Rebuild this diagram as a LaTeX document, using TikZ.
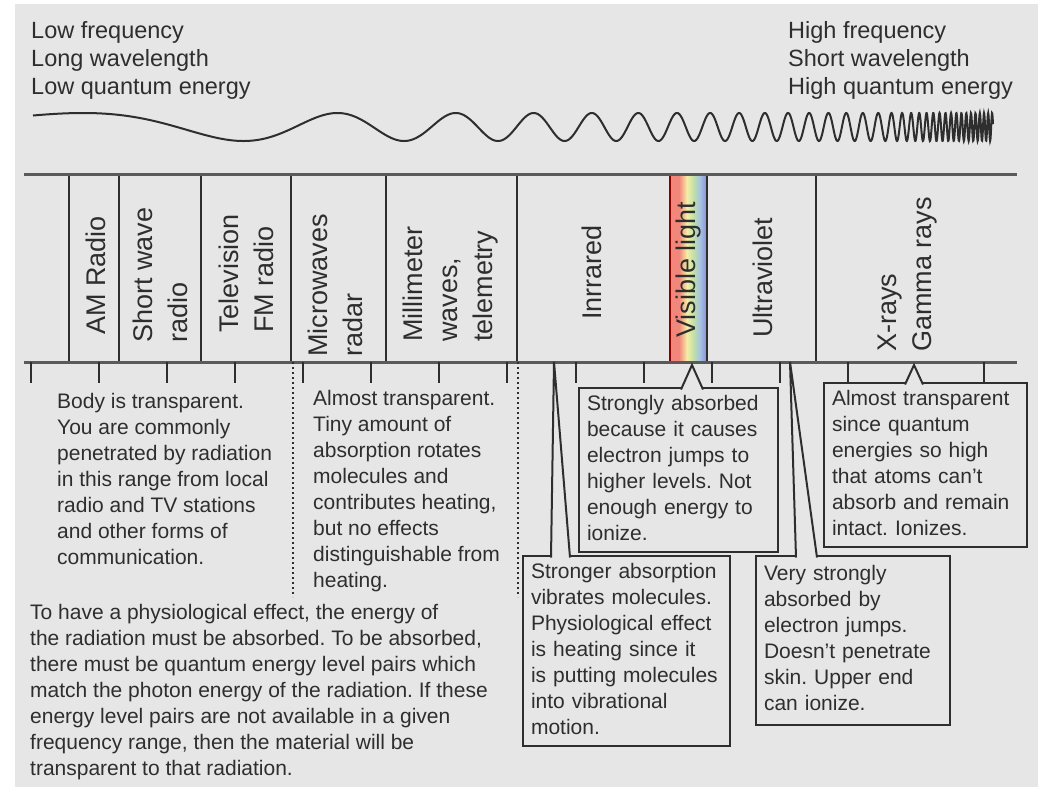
\documentclass[tikz,border=0pt]{standalone}
\usepackage{fontspec}
\setmainfont{Liberation Sans}
\usepackage{xcolor}
\usepackage{tikz}
\usetikzlibrary{calc}
\frenchspacing

\definecolor{bggray}{HTML}{E6E6E6}
\definecolor{ink}{HTML}{2E2E2E}
\definecolor{rulegray}{HTML}{5A5A5A}
\definecolor{specred}{HTML}{F2867A}
\definecolor{specorange}{HTML}{F6B88C}
\definecolor{specyellow}{HTML}{F4EEA6}
\definecolor{specgreen}{HTML}{C4E2A4}
\definecolor{speccyan}{HTML}{A6C2E4}
\definecolor{specblue}{HTML}{8C8CD6}

\begin{document}
\begin{tikzpicture}[x=1pt, y=-1pt]
\tikzstyle{heading} = [anchor=north west, inner sep=0pt, align=left, text=ink, font=\fontsize{23.5}{28}\selectfont, execute at begin node=\strut]
\tikzstyle{note} = [anchor=north west, inner sep=0pt, align=left, text=ink, font=\fontsize{21}{26}\selectfont, execute at begin node=\strut]
\tikzstyle{bandlabel} = [rotate=90, anchor=west, inner sep=0pt, align=left, text=ink, font=\fontsize{27}{35}\selectfont]
\tikzstyle{callout} = [rectangle, anchor=north west, draw=ink, fill=bggray, line width=2pt, inner xsep=8pt, inner ysep=4pt, outer sep=0pt, align=left, text=ink, font=\fontsize{21}{26}\selectfont, execute at begin node=\strut, execute at end node=\strut]
\tikzstyle{pointer} = [fill=bggray, draw=ink, line width=2pt]
\tikzstyle{divider} = [draw=ink, line width=2pt]
\tikzstyle{band} = [draw=rulegray, line width=3pt]
\tikzstyle{tick} = [draw=ink, line width=2pt]
\tikzstyle{rangesep} = [draw=ink, line width=2pt, dash pattern=on 2pt off 3pt]
\tikzstyle{wave} = [draw=ink, line width=2pt]

\useasboundingbox (0,0) rectangle (1038,787);
\fill[bggray] (15,4) rectangle (1038,787);

% headings and wave
\node (lowend) [heading] at (31,21.4) {Low frequency\\Long wavelength\\Low quantum energy};
\node (highend) [heading] at (788,21.4) {High frequency\\Short wavelength\\High quantum energy};
\draw [wave] plot[domain=33:993, samples=3000] (\x, {127-14*sin(90+180*(exp(0.00432*(\x-83))-1+0.0013*max(0,\x-880)^2))});

% spectrum bands
\foreach \xa/\xb/\ca/\cb in {670/679/specred/specred, 679/687/specred/specyellow, 687/693/specyellow/specgreen, 693/700/specgreen/speccyan, 700/707/speccyan/specblue}
  \shade[left color=\ca, right color=\cb] (\xa,174) rectangle (\xb,362);
\foreach \xd in {69,119,201,291,386,517,707,816}
  \draw [divider] (\xd,174) -- (\xd,362);
\draw [divider, draw=red!55!black] (670,174) -- (670,362);
\draw [band] (24,174) -- (1017,174);
\draw [band] (24,362) -- (1017,362);

\node (am) [bandlabel] at (96,335) {AM Radio};
\node (shortwave) [bandlabel] at (160,343) {Short wave\\radio};
\node (tv) [bandlabel] at (246,333) {Television\\FM radio};
\node (micro) [bandlabel] at (335,357) {Microwaves\\radar};
\node (milli) [bandlabel] at (451,342) {Millimeter\\waves,\\telemetry};
\node (infrared) [bandlabel] at (592,320) {Inrrared};
\node (visible) [bandlabel] at (689,338) {Visible light};
\node (uv) [bandlabel] at (763,338) {Ultraviolet};
\node (xray) [bandlabel] at (908,352) {X-rays\\Gamma rays};

% scale ticks and range separators
\foreach \k in {0,...,12,14}
  \draw [tick] (31+68.07*\k,362) -- (31+68.07*\k,383);
\draw [rangesep] (293,362) -- (293,597);
\draw [rangesep] (518,362) -- (518,597);

% notes
\node (radionote) [note] at (57,392.8) {Body is transparent.\\You are commonly\\penetrated by radiation\\in this range from local\\radio and TV stations\\and other forms of\\communication.};
\node (micronote) [note] at (313,389.8) {Almost transparent.\\Tiny amount of\\absorption rotates\\molecules and\\contributes heating,\\but no effects\\distinguishable from\\heating.};
\node (physionote) [note] at (30,603.8) {To have a physiological effect, the energy of\\the radiation must be absorbed. To be absorbed,\\there must be quantum energy level pairs which\\match the photon energy of the radiation. If these\\energy level pairs are not available in a given\\frequency range, then the material will be\\transparent to that radiation.};

% callouts
\node (visbox) [callout, text width=183pt] at (579,388) {Strongly absorbed\\because it causes\\electron jumps to\\higher levels. Not\\enough energy to\\ionize.};
\node (irbox) [callout, text width=191pt] at (523,556) {Stronger absorption\\vibrates molecules.\\Physiological effect\\is heating since it\\is putting molecules\\into vibrational\\motion.};
\node (uvbox) [callout, text width=178pt, minimum height=169pt] at (756,556) {Very strongly\\absorbed by\\electron jumps.\\Doesn't penetrate\\skin. Upper end\\can ionize.};
\node (xraybox) [callout, text width=187pt] at (824,383) {Almost transparent\\since quantum\\energies so high\\that atoms can't\\absorb and remain\\intact. Ionizes.};

\coordinate (irtip) at (554,362);
\coordinate (vistip) at (692,365);
\coordinate (uvtip) at (790,362);
\coordinate (xraytip) at (914,365);

\filldraw [pointer] ($(irbox.north west)+(28,1.5)$) -- (irtip) -- ($(irbox.north west)+(47,1.5)$);
\filldraw [pointer] ($(visbox.north west)+(102,1.5)$) -- (vistip) -- ($(visbox.north west)+(124,1.5)$);
\filldraw [pointer] ($(uvbox.north west)+(40,1.5)$) -- (uvtip) -- ($(uvbox.north west)+(61,1.5)$);
\filldraw [pointer] ($(xraybox.north west)+(81,1.5)$) -- (xraytip) -- ($(xraybox.north west)+(99,1.5)$);

\end{tikzpicture}
\end{document}
